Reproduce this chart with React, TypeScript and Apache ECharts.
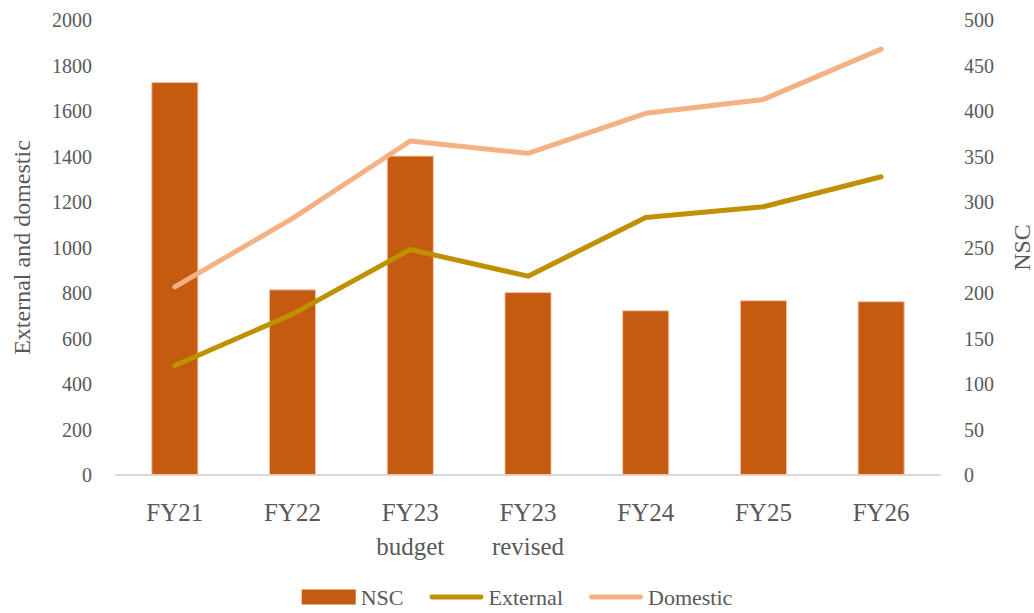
import React, { useEffect, useRef } from "react";
import * as echarts from "echarts";

const categories = ["FY21", "FY22", "FY23\nbudget", "FY23\nrevised", "FY24", "FY25", "FY26"];
const nscValues = [432, 204, 351, 201, 181, 192, 191];
const externalValues = [481, 707, 991, 874, 1132, 1179, 1311];
const domesticValues = [827, 1128, 1468, 1414, 1590, 1651, 1872];

const FONT = '"Liberation Serif", "DejaVu Serif", serif';
const TEXT = "#595959";
const LINE_ICON = "path://M2.5,0 H53.5 A2.5,2.5 0 0 1 53.5,5 H2.5 A2.5,2.5 0 0 1 2.5,0 Z";

export default function App() {
  const ref = useRef<HTMLDivElement>(null);
  useEffect(() => {
    if (!ref.current) return;
    const chart = echarts.init(ref.current, undefined, { renderer: "svg" });
    chart.setOption({
      animation: false,
      textStyle: { fontFamily: FONT, color: TEXT },
      grid: {
        left: 116,
        right: 94,
        top: 20,
        bottom: 138,
        containLabel: false,
        outerBoundsMode: "none",
      },
      legend: {
        bottom: 0,
        left: "center",
        itemWidth: 54,
        itemHeight: 15,
        itemGap: 26,
        symbolKeepAspect: true,
        textStyle: { fontFamily: FONT, fontSize: 22, color: TEXT },
        data: [
          { name: "NSC", icon: "rect", itemStyle: { borderWidth: 0 } },
          { name: "External", icon: LINE_ICON },
          { name: "Domestic", icon: LINE_ICON },
        ],
      },
      xAxis: {
        type: "category",
        data: categories,
        axisLine: { lineStyle: { color: "#d9d9d9", width: 2 } },
        axisTick: { show: false },
        axisLabel: {
          fontFamily: FONT,
          fontSize: 25,
          lineHeight: 34,
          color: TEXT,
          margin: 20,
          interval: 0,
        },
      },
      yAxis: [
        {
          type: "value",
          min: 0,
          max: 2000,
          interval: 200,
          name: "External and domestic",
          nameLocation: "middle",
          nameGap: 82,
          nameTextStyle: { fontFamily: FONT, fontSize: 24, color: TEXT },
          axisLine: { show: false },
          axisTick: { show: false },
          splitLine: { show: false },
          axisLabel: {
            fontFamily: FONT,
            fontSize: 20,
            color: TEXT,
            margin: 24,
            formatter: (v: number) => String(v),
          },
        },
        {
          type: "value",
          min: 0,
          max: 500,
          interval: 50,
          name: "NSC",
          nameLocation: "middle",
          nameGap: 70,
          nameRotate: 90,
          nameTextStyle: { fontFamily: FONT, fontSize: 24, color: TEXT },
          axisLine: { show: false },
          axisTick: { show: false },
          splitLine: { show: false },
          axisLabel: {
            fontFamily: FONT,
            fontSize: 20,
            color: TEXT,
            margin: 24,
            formatter: (v: number) => String(v),
          },
        },
      ],
      series: [
        {
          name: "NSC",
          type: "bar",
          yAxisIndex: 1,
          data: nscValues,
          barWidth: "40%",
          itemStyle: { color: "#C55A11", borderColor: "#F2C4A4", borderWidth: 1 },
        },
        {
          name: "External",
          type: "line",
          yAxisIndex: 0,
          data: externalValues,
          symbol: "none",
          lineStyle: { color: "#BF9000", width: 5, cap: "round", join: "round" },
          itemStyle: { color: "#BF9000" },
        },
        {
          name: "Domestic",
          type: "line",
          yAxisIndex: 0,
          data: domesticValues,
          symbol: "none",
          lineStyle: { color: "#F4B183", width: 5, cap: "round", join: "round" },
          itemStyle: { color: "#F4B183" },
        },
      ],
    });
    return () => chart.dispose();
  }, []);
  return <div ref={ref} style={{ width: 1034, height: 613, position: "absolute", left: 0, top: 0 }} />;
}
